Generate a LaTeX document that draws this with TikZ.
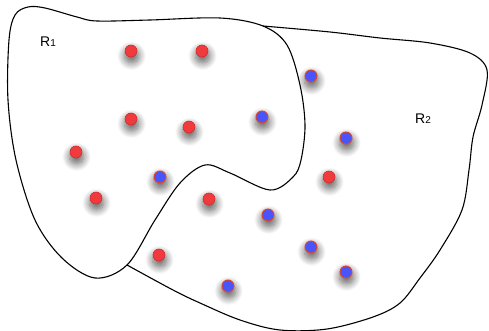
\documentclass[tikz,border=0pt]{standalone}
\usepackage{fontspec}
\setmainfont{Liberation Sans}
\usepackage{tikz}
\usetikzlibrary{shadows.blur}

\definecolor{dotred}{RGB}{240,58,62}
\definecolor{dotredline}{RGB}{205,45,45}
\definecolor{dotblue}{RGB}{72,84,252}
\definecolor{dotblueline}{RGB}{220,70,45}

\tikzset{
  dotshadow/.style={blur shadow={shadow xshift=0.5pt, shadow yshift=-4pt, shadow scale=1.2, shadow blur radius=6pt, shadow blur steps=10, shadow opacity=60}},
  reddot/.style={circle, inner sep=0pt, minimum size=12pt, fill=dotred, draw=dotredline, line width=0.6pt, dotshadow},
  bluedot/.style={circle, inner sep=0pt, minimum size=12pt, fill=dotblue, draw=dotblueline, line width=1pt, dotshadow},
  region/.style={line width=1.1pt, black},
  reglabel/.style={font=\fontsize{14}{14}\selectfont, inner sep=0pt}
}

\begin{document}
\begin{tikzpicture}[x=1pt, y=-1pt]
  \useasboundingbox (0,0) rectangle (489,331);

  % region R1
  \draw[region] plot[smooth cycle, tension=0.55] coordinates {
    (15,15) (28,7) (45,8) (77,17) (97,21) (150,20) (220,18) (263,26)
    (287,45) (300,85) (305,125) (301,160) (293,177) (270,190) (230,173)
    (205,165) (180,183) (155,220) (127,265) (95,278) (62,258)
    (35,220) (16,160) (8,100) (9,40)};

  % region R2
  \draw[region] plot[smooth, tension=0.55] coordinates {
    (263,26) (330,32) (380,38) (430,43) (470,53) (487,70) (482,105)
    (473,137) (469,170) (462,210) (440,250) (420,278) (400,303) (373,317)
    (327,329) (280,330) (240,320) (200,303) (173,290) (127,265)};

  \node[reglabel] (labR1) at (48,42) {R\fontsize{10}{10}\selectfont 1};
  \node[reglabel] (labR2) at (423,119) {R\fontsize{10}{10}\selectfont 2};

  % points
  \foreach \name/\pos in {r1/{(131,51)}, r2/{(202,51)}, r3/{(131,119)}, r4/{(189,127)},
      r5/{(76,152)}, r6/{(96,198)}, r7/{(209,199)}, r8/{(159,255)}, r9/{(329,177)}}
    \node[reddot] (\name) at \pos {};
  \foreach \name/\pos in {b1/{(311,76)}, b2/{(262,117)}, b3/{(346,138)}, b4/{(160,177)},
      b5/{(268,215)}, b6/{(311,247)}, b7/{(346,272)}, b8/{(228,286)}}
    \node[bluedot] (\name) at \pos {};
\end{tikzpicture}
\end{document}
